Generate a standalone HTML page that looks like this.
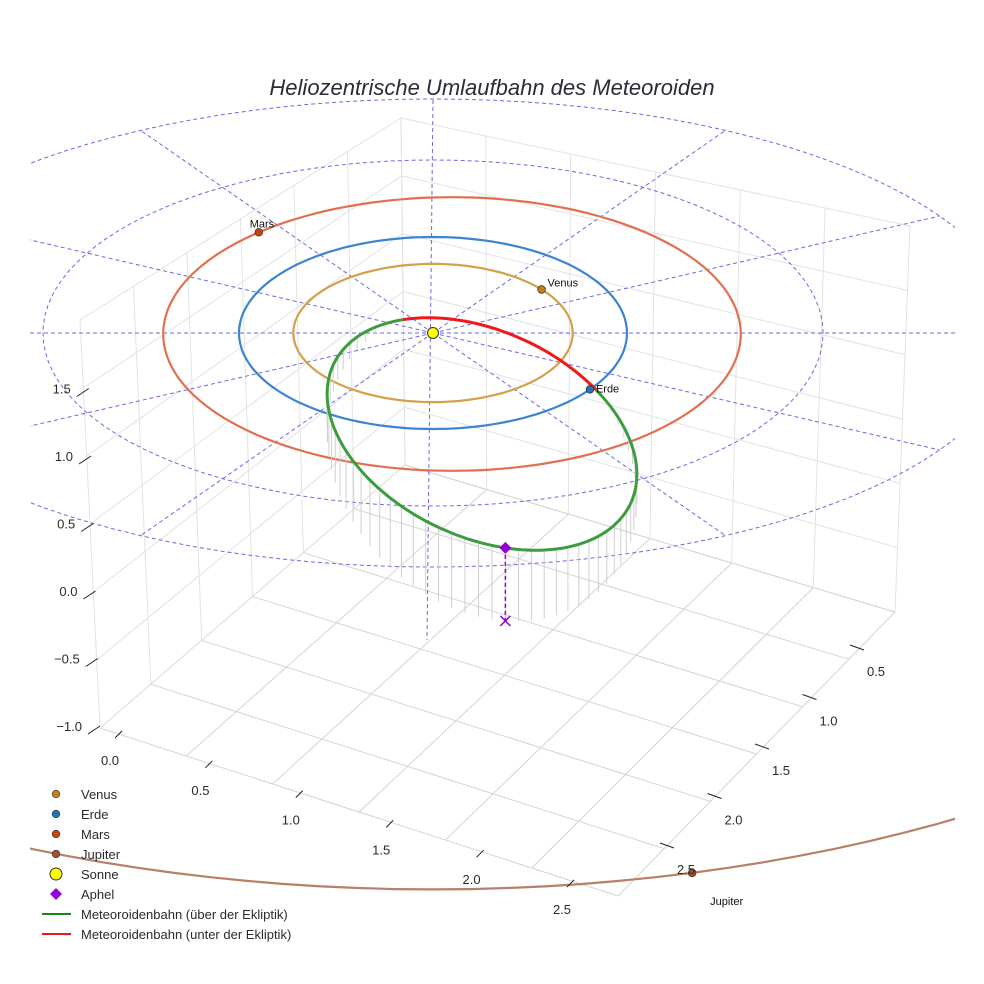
<!DOCTYPE html>
<html><head><meta charset="utf-8">
<style>
html,body{margin:0;padding:0;background:#fff;}
svg{display:block;font-family:"Liberation Sans",sans-serif;}
</style></head>
<body>
<svg id="chart" width="984" height="984" viewBox="0 0 984 984">
<defs><clipPath id="clip"><rect x="30" y="60" width="925" height="900"/></clipPath></defs>
<g id="box"></g>
<g id="ecl" clip-path="url(#clip)"></g>
<g id="orbits" clip-path="url(#clip)"></g>
<g id="met"></g>
<g id="pts"></g>
<g id="ticks"></g>
<text x="492" y="95" font-size="22" font-style="italic" fill="#2a2a3a" text-anchor="middle">Heliozentrische Umlaufbahn des Meteoroiden</text>
<g id="legend"></g>
</svg>
<script>
const NS="http://www.w3.org/2000/svg";
function mk(tag,attrs,parent){const e=document.createElementNS(NS,tag);for(const k in attrs)e.setAttribute(k,attrs[k]);parent.appendChild(e);return e;}

// ---- data ----
const planetNames=["Venus","Erde","Mars","Jupiter"];
const planetRadii=[0.72,1.0,1.52,5.2];
const planetAngles=[39,-36,132,-76];
const planetColors=["#c87f1a","#1f77b4","#c8430f","#a0522d"];
const orbitColors=["#d4a04a","#3a84d0","#e07050","#b88068"];
const gridRings=[2,3];
const radialAngles=[0,30,60,120,150,180,210,240,300,330];
const zTicks=[1.5,1.0,0.5,0.0,-0.5,-1.0];
const xTicks=[0.0,0.5,1.0,1.5,2.0,2.5];
const yTicks=[0.5,1.0,1.5,2.0,2.5];
// meteoroid orbit (screen-plane ellipse params)
const metCenter=[482,434], metAxes=[164,103], metTilt=25;
const redRange=[223,301]; // param angles (deg) below ecliptic
const aphelAngle=65;

// projection
const SX=433, SY=333;
function scaleFor(r){ if(r>=5)return [206,107]; if(r>=3)return [195,78]; if(r>=2)return [195,86.5]; if(r>=1.4)return [190,90]; return [194,96];}
function centerFor(r){ return r>=1.4&&r<2?[452,334]:[SX,SY]; }
function proj(r,deg){const s=scaleFor(r),c=centerFor(r),t=deg*Math.PI/180;return [c[0]+r*s[0]*Math.cos(t),c[1]-r*s[1]*Math.sin(t)];}

// ---- box ----
const box=document.getElementById('box');
const A=[100,728],B=[618,896],C=[895,612],D=[405,465],Ap=[80,320],Cp=[910,226],Dp=[401,118];
const lerp=(p,q,t)=>[p[0]+(q[0]-p[0])*t,p[1]+(q[1]-p[1])*t];
function gl(p,q,col){const l=mk('line',{x1:p[0],y1:p[1],x2:q[0],y2:q[1],stroke:col||'#d4d4d4','stroke-width':1},box);}
for(let i=0;i<=6;i++){const t=i/6;
 gl(lerp(A,B,t),lerp(D,C,t)); gl(lerp(A,D,t),lerp(B,C,t));
 gl(lerp(D,A,t),lerp(Dp,Ap,t),'#e2e2e2'); gl(lerp(D,C,t),lerp(Dp,Cp,t),'#e2e2e2');
 gl(lerp(A,Ap,t),lerp(D,Dp,t),'#e2e2e2'); gl(lerp(C,Cp,t),lerp(D,Dp,t),'#e2e2e2');
}

// ---- ecliptic grid ----
const ecl=document.getElementById('ecl');
gridRings.forEach(r=>{let d='';for(let a=0;a<=360;a+=3){const p=proj(r,a);d+=(a?'L':'M')+p[0].toFixed(1)+' '+p[1].toFixed(1);}
 const e=mk('path',{d,fill:'none',stroke:'#6a6ae0','stroke-width':1,'stroke-dasharray':'4 3'},ecl);
 });
radialAngles.forEach(a=>{const p=proj(3,a);
 const e=mk('line',{x1:SX,y1:SY,x2:p[0],y2:p[1],stroke:'#6a6ae0','stroke-width':1,'stroke-dasharray':'4 3'},ecl);
 });
{const e=mk('line',{x1:433,y1:100,x2:427,y2:640,stroke:'#6a6ae0','stroke-width':1,'stroke-dasharray':'4 3'},ecl);
 }

// ---- planet orbits ----
const orb=document.getElementById('orbits');
planetRadii.forEach((r,i)=>{let d='';for(let a=0;a<=360;a+=2){const p=proj(r,a);d+=(a?'L':'M')+p[0].toFixed(1)+' '+p[1].toFixed(1);}
 const e=mk('path',{d,fill:'none',stroke:orbitColors[i],'stroke-width':2.2},orb);
 });

// ---- meteoroid ----
const met=document.getElementById('met');
const tilt=metTilt*Math.PI/180;
function mp(deg){const t=deg*Math.PI/180,x=metAxes[0]*Math.cos(t),y=metAxes[1]*Math.sin(t);
 return [metCenter[0]+x*Math.cos(tilt)-y*Math.sin(tilt),metCenter[1]+x*Math.sin(tilt)+y*Math.cos(tilt)];}
const n1=mp(redRange[0]),n2=mp(redRange[1]),ap=mp(aphelAngle);
function sd(p){return ((n2[0]-n1[0])*(p[1]-n1[1])-(n2[1]-n1[1])*(p[0]-n1[0]))/Math.hypot(n2[0]-n1[0],n2[1]-n1[1]);}
const apDrop=73, dAp=sd(ap);
for(let a=0;a<360;a+=5){if(a>=redRange[0]&&a<=redRange[1])continue;const p=mp(a);const h=apDrop*sd(p)/dAp;if(h<2)continue;
 const e=mk('line',{x1:p[0],y1:p[1],x2:p[0],y2:p[1]+h,stroke:'#cfcfcf','stroke-width':1},met);
 }
function arc(a0,a1){let d='';for(let a=a0;a<=a1+0.01;a+=2){const p=mp(a);d+=(a===a0?'M':'L')+p[0].toFixed(1)+' '+p[1].toFixed(1);}return d;}
{const e=mk('path',{d:arc(redRange[1],redRange[0]+360),fill:'none',stroke:'#3d9c3d','stroke-width':3},met);
 }
{const e=mk('path',{d:arc(redRange[0],redRange[1]),fill:'none',stroke:'#f01818','stroke-width':3},met);
 }
{const e=mk('line',{x1:ap[0],y1:ap[1],x2:ap[0],y2:ap[1]+apDrop,stroke:'#9400d3','stroke-width':1.5,'stroke-dasharray':'4 3'},met);
 }
{const x=ap[0],y=ap[1]+apDrop;const e=mk('path',{d:`M${x-5} ${y-5}L${x+5} ${y+5}M${x+5} ${y-5}L${x-5} ${y+5}`,stroke:'#9400d3','stroke-width':1.5},met);
 }
{const e=mk('path',{d:`M${ap[0]} ${ap[1]-6}L${ap[0]+6} ${ap[1]}L${ap[0]} ${ap[1]+6}L${ap[0]-6} ${ap[1]}Z`,fill:'#9400d3'},met);
 }

// ---- planets ----
const pts=document.getElementById('pts');
planetNames.forEach((n,i)=>{const p=proj(planetRadii[i],planetAngles[i]);
 const c=mk('circle',{cx:p[0],cy:p[1],r:3.8,fill:planetColors[i],stroke:'#333','stroke-width':0.8},pts);
 
 let tx=p[0]+6,ty=p[1]-3,anc='start';
 if(n==='Mars'){tx=p[0]-9;ty=p[1]-5;} if(n==='Jupiter'){tx=p[0]+18;ty=p[1]+32;anc='start';}
 if(n==='Erde'){ty=p[1]+3;}
 const t=mk('text',{x:tx,y:ty,'font-size':11,fill:'#111','text-anchor':anc},pts);t.textContent=n;
 });
{const c=mk('circle',{cx:SX,cy:SY,r:5.5,fill:'#ffff00',stroke:'#333','stroke-width':1},pts);
 }

// ---- ticks ----
const tk=document.getElementById('ticks');
function tlabel(x,y,s,anc){const t=mk('text',{x,y,'font-size':13,fill:'#2a2a2a','text-anchor':anc||'middle'},tk);t.textContent=s;}
function tmark(x1,y1,x2,y2){const l=mk('line',{x1,y1,x2,y2,stroke:'#222','stroke-width':1},tk);}
const zScr=z=>591-z*135;
zTicks.forEach(z=>{const y=zScr(z),x=100-(z+1)*4.5;tmark(x-12,y+8,x,y);tlabel(x-18,y+5,z.toFixed(1).replace('-','\u2212'),'end');});
const xLab0=[110,760],xLab1=[562,909];
xTicks.forEach(v=>{const p=lerp(xLab0,xLab1,v/2.5);tmark(p[0]+5,p[1]-22,p[0]+12,p[1]-29);tlabel(p[0],p[1]+5,v.toFixed(1));});
const yLab0=[876,671],yLab1=[686,869];
yTicks.forEach(v=>{const p=lerp(yLab0,yLab1,(v-0.5)/2);tmark(p[0]-26,p[1]-26,p[0]-12,p[1]-21);tlabel(p[0],p[1]+5,v.toFixed(1));});

// ---- legend ----
const lg=document.getElementById('legend');
const legNames=["Venus","Erde","Mars","Jupiter","Sonne","Aphel","Meteoroidenbahn (über der Ekliptik)","Meteoroidenbahn (unter der Ekliptik)"];
legNames.forEach((n,i)=>{const y=794+i*20,cx=56;
 let m;
 if(i<4)m=mk('circle',{cx,cy:y,r:3.8,fill:planetColors[i],stroke:'#333','stroke-width':0.7},lg);
 else if(i===4)m=mk('circle',{cx,cy:y,r:6,fill:'#ffff00',stroke:'#333','stroke-width':1},lg);
 else if(i===5)m=mk('path',{d:`M${cx} ${y-6}L${cx+6} ${y}L${cx} ${y+6}L${cx-6} ${y}Z`,fill:'#9400d3'},lg);
 else m=mk('line',{x1:42,y1:y,x2:71,y2:y,stroke:i===6?'#138a13':'#e41a1a','stroke-width':2},lg);
 
 const t=mk('text',{x:81,y:y+5,'font-size':13,fill:'#2a2a2a'},lg);t.textContent=n;
 });
</script>
</body></html>
